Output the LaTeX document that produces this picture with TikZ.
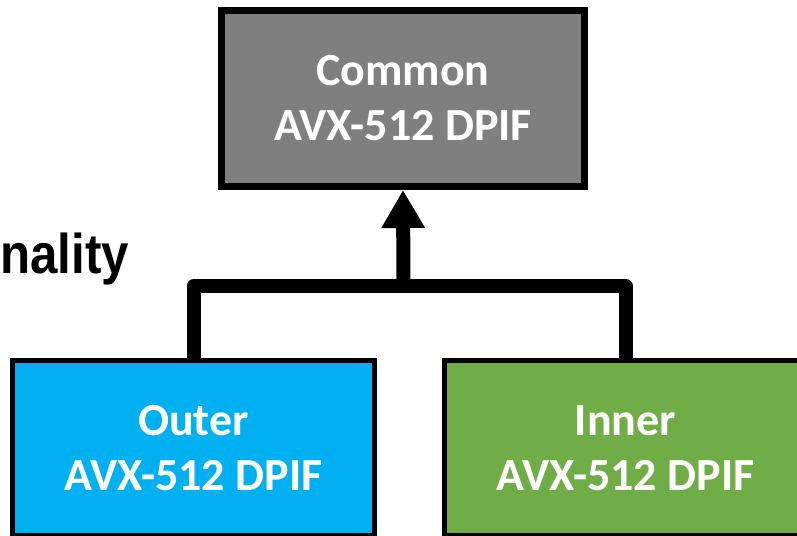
\documentclass[tikz,border=0pt]{standalone}
\usepackage{fontspec}
\setmainfont{Carlito}
\newfontfamily\arialfont{Liberation Sans}
\usetikzlibrary{arrows.meta}
\definecolor{boxgray}{HTML}{7F7F7F}
\definecolor{boxblue}{HTML}{00B0F0}
\definecolor{boxgreen}{HTML}{70AD47}
\begin{document}
\begin{tikzpicture}[x=1pt,y=-1pt,
    ifbox/.style={draw=black, rectangle, inner sep=0pt, align=center, text=white,
        font=\fontsize{46}{55}\selectfont\bfseries},
    link/.style={draw=black, line width=14pt, line join=round}]
    \useasboundingbox (0,0) rectangle (797,535);
    \node [ifbox, fill=boxgray, line width=7.5pt, minimum width=363pt, minimum height=175.5pt] (common) at (403,98.5) {Common\\AVX-512 DPIF};
    \node [ifbox, fill=boxblue, line width=5pt, minimum width=362pt, minimum height=175pt] (outer) at (193.5,448) {Outer\\AVX-512 DPIF};
    \node [ifbox, fill=boxgreen, line width=5pt, minimum width=362pt, minimum height=175pt] (inner) at (625.5,448) {Inner\\AVX-512 DPIF};
    \node [anchor=base west, inner sep=0pt, font=\arialfont\fontsize{56}{60}\selectfont\bfseries] (label) at (0,273) {\scalebox{0.88}[1]{nality}};
    \coordinate (bar) at (403.5,286);
    \draw [link] (outer.north) |- (bar) -| (inner.north);
    \draw [link, -{Triangle[length=38pt, width=41pt]}] (bar) -- (common.south);
\end{tikzpicture}
\end{document}
